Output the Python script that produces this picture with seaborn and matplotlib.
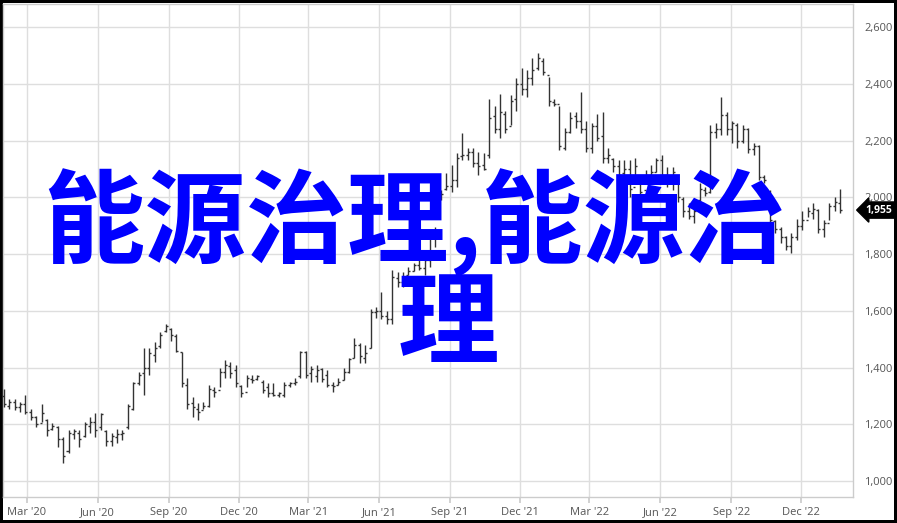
import pandas as pd
import numpy as np
import matplotlib
matplotlib.use("Agg")
import matplotlib.pyplot as plt
import matplotlib.dates as mdates
from matplotlib.ticker import FuncFormatter
import seaborn as sns

# weekly OHLC bars
high = [1325, 1290, 1290, 1280, 1305, 1255, 1230, 1270, 1220, 1205,
        1195, 1155, 1180, 1185, 1180, 1210, 1225, 1240, 1240, 1180,
        1170, 1185, 1180, 1270, 1350, 1385, 1470, 1470, 1490, 1525,
        1555, 1540, 1520, 1455, 1365, 1295, 1275, 1280, 1340, 1330,
        1400, 1425, 1420, 1410, 1340, 1375, 1375, 1375, 1355, 1345,
        1345, 1315, 1350, 1350, 1365, 1460, 1460, 1405, 1410, 1400,
        1390, 1350, 1365, 1400, 1435, 1505, 1485, 1480, 1605, 1615,
        1665, 1600, 1745, 1735, 1735, 1755, 1770, 1790, 1805, 1875,
        1895, 2025, 2085, 2115, 2155, 2225, 2175, 2175, 2160, 2155,
        2345, 2320, 2365, 2305, 2360, 2420, 2455, 2450, 2490, 2510,
        2490, 2425, 2345, 2320, 2245, 2300, 2300, 2370, 2270, 2260,
        2295, 2300, 2175, 2140, 2130, 2130, 2130, 2140, 2070, 2095,
        2115, 2140, 2150, 2105, 2105, 2060, 2000, 1980, 1965, 2050,
        2035, 2255, 2260, 2355, 2300, 2270, 2260, 2255, 2245, 2190,
        2185, 2080, 2025, 1920, 1895, 1865, 1875, 1925, 1950, 1965,
        1980, 1960, 1920, 1980, 2000, 2030]
low = [1260, 1255, 1250, 1245, 1235, 1215, 1190, 1210, 1160, 1180,
       1120, 1065, 1100, 1150, 1120, 1155, 1170, 1155, 1180, 1125,
       1125, 1135, 1145, 1185, 1250, 1340, 1305, 1375, 1420, 1470,
       1525, 1495, 1455, 1330, 1255, 1225, 1215, 1255, 1260, 1295,
       1330, 1365, 1365, 1330, 1295, 1330, 1345, 1355, 1310, 1295,
       1300, 1295, 1295, 1330, 1340, 1365, 1365, 1350, 1350, 1350,
       1330, 1315, 1340, 1355, 1380, 1435, 1415, 1415, 1470, 1575,
       1570, 1555, 1555, 1685, 1685, 1725, 1740, 1745, 1725, 1755,
       1825, 1990, 2025, 2020, 2035, 2130, 2130, 2105, 2080, 2095,
       2140, 2225, 2210, 2225, 2255, 2305, 2360, 2355, 2395, 2450,
       2430, 2320, 2320, 2165, 2165, 2225, 2245, 2225, 2160, 2155,
       2200, 2120, 2120, 2090, 2060, 2070, 2000, 2070, 2000, 2050,
       2060, 2090, 2060, 2035, 2025, 1985, 1930, 1925, 1910, 1980,
       2005, 2015, 2210, 2220, 2220, 2190, 2175, 2190, 2155, 2150,
       2060, 2050, 1900, 1875, 1840, 1815, 1805, 1850, 1885, 1930,
       1925, 1875, 1860, 1920, 1950, 1945]
open_ = [1300, 1265, 1280, 1262, 1270, 1245, 1225, 1205, 1215, 1185,
         1190, 1150, 1105, 1165, 1170, 1160, 1195, 1210, 1190, 1175,
         1140, 1155, 1165, 1190, 1255, 1345, 1380, 1400, 1445, 1475,
         1530, 1535, 1510, 1455, 1340, 1275, 1255, 1250, 1265, 1320,
         1320, 1385, 1405, 1390, 1335, 1315, 1360, 1360, 1350, 1330,
         1310, 1305, 1305, 1340, 1345, 1370, 1455, 1380, 1370, 1395,
         1375, 1340, 1340, 1355, 1385, 1435, 1480, 1435, 1470, 1595,
         1600, 1580, 1570, 1715, 1700, 1725, 1740, 1760, 1750, 1780,
         1810, 1995, 2030, 2040, 2060, 2145, 2150, 2160, 2120, 2115,
         2150, 2285, 2240, 2295, 2250, 2345, 2400, 2380, 2420, 2455,
         2480, 2430, 2335, 2330, 2175, 2230, 2285, 2270, 2240, 2175,
         2250, 2215, 2140, 2135, 2110, 2085, 2100, 2035, 2060, 2025,
         2080, 2090, 2130, 2080, 2060, 2050, 1995, 1950, 1935, 1990,
         2025, 2020, 2230, 2240, 2290, 2240, 2255, 2200, 2240, 2170,
         2180, 2070, 2020, 1915, 1890, 1860, 1830, 1860, 1900, 1920,
         1945, 1955, 1890, 1910, 1970, 1980]
close = [1270, 1280, 1260, 1270, 1245, 1225, 1200, 1240, 1180, 1195,
         1150, 1090, 1170, 1175, 1150, 1200, 1210, 1180, 1235, 1140,
         1160, 1165, 1170, 1265, 1345, 1375, 1400, 1450, 1470, 1515,
         1545, 1515, 1460, 1345, 1270, 1260, 1245, 1265, 1325, 1315,
         1385, 1410, 1380, 1345, 1310, 1365, 1355, 1370, 1320, 1310,
         1305, 1310, 1340, 1345, 1350, 1455, 1375, 1395, 1390, 1360,
         1340, 1335, 1350, 1385, 1430, 1480, 1440, 1450, 1595, 1600,
         1580, 1570, 1720, 1700, 1720, 1740, 1760, 1750, 1780, 1810,
         1880, 2010, 2040, 2060, 2140, 2150, 2160, 2120, 2110, 2100,
         2280, 2240, 2300, 2240, 2340, 2400, 2380, 2420, 2450, 2490,
         2440, 2340, 2330, 2180, 2230, 2280, 2270, 2240, 2175, 2250,
         2210, 2140, 2150, 2110, 2080, 2100, 2030, 2110, 2020, 2080,
         2090, 2130, 2080, 2060, 2090, 2000, 1950, 1935, 1950, 2030,
         2015, 2230, 2240, 2290, 2240, 2260, 2200, 2240, 2170, 2180,
         2070, 2060, 1920, 1890, 1860, 1830, 1860, 1900, 1920, 1950,
         1960, 1890, 1910, 1970, 1985, 1955]

dates = pd.date_range("2020-01-31", periods=len(close), freq="W-FRI")
df = pd.DataFrame({"date": dates, "open": open_, "high": high, "low": low, "close": close})

tick_dates = pd.to_datetime(["2020-03-01", "2020-06-01", "2020-09-01", "2020-12-01",
                             "2021-03-01", "2021-06-01", "2021-09-01", "2021-12-01",
                             "2022-03-01", "2022-06-01", "2022-09-01", "2022-12-01"])
tick_labels = ["Mar '20", "Jun '20", "Sep '20", "Dec '20", "Mar '21", "Jun '21",
               "Sep '21", "Dec '21", "Mar '22", "Jun '22", "Sep '22", "Dec '22"]
y_ticks = [1000, 1200, 1400, 1600, 1800, 2000, 2200, 2400, 2600]
overlay_line1 = "能源治理,能源治"
overlay_line2 = "理"

sns.set_theme(style="white")
plt.rcParams["font.family"] = ["Open Sans", "DejaVu Sans"]

fig = plt.figure(figsize=(8.97, 5.23), dpi=100)
ax = fig.add_axes([3 / 897, 1 - 497 / 523, 850 / 897, 493 / 523])

x = mdates.date2num(df["date"])
half = 2.6
bar_color = "#333333"
ax.vlines(x, df["low"], df["high"], color=bar_color, lw=1.0, zorder=3)
ax.hlines(df["open"], x - half, x, color=bar_color, lw=1.0, zorder=3)
ax.hlines(df["close"], x, x + half, color=bar_color, lw=1.0, zorder=3)

ax.set_xlim(mdates.date2num(pd.Timestamp("2020-01-30")), mdates.date2num(pd.Timestamp("2023-02-06")))
ax.set_ylim(944, 2681)

ax.set_xticks(mdates.date2num(tick_dates))
ax.set_xticklabels(tick_labels)
ax.set_yticks(y_ticks)
ax.yaxis.set_major_formatter(FuncFormatter(lambda v, p: f"{int(v):,}"))
ax.yaxis.tick_right()

ax.grid(True, color="#dedede", lw=1.0, zorder=0)
for s in ax.spines.values():
    s.set_color("#cccccc")
    s.set_linewidth(1.0)
ax.tick_params(axis="x", direction="out", length=4, color="#cccccc", labelsize=8,
               labelcolor="#555555", pad=3, bottom=True)
ax.tick_params(axis="y", length=0, labelsize=8, labelcolor="#555555", pad=8)

# last price label
ax.annotate(f"{close[-1]:,}", xy=(1.0, close[-1]), xycoords=("axes fraction", "data"),
            xytext=(9, 0), textcoords="offset points", va="center", ha="left",
            fontsize=7.5, color="white", fontweight="bold",
            bbox=dict(boxstyle="larrow,pad=0.25", fc="black", ec="black"))

# big blue overlay text
cjk = ["Noto Sans CJK SC", "DejaVu Sans"]
fig.text(0.462, 1 - 223 / 523, overlay_line1, color="#0000ff", fontsize=73, fontweight="bold",
         family=cjk, ha="center", va="center", zorder=10)
fig.text(0.5, 1 - 326 / 523, overlay_line2, color="#0000ff", fontsize=73, fontweight="bold",
         family=cjk, ha="center", va="center", zorder=10)

fig.patch.set_edgecolor("black")
fig.patch.set_linewidth(4)

fig.savefig("out.png", dpi=100, facecolor="white", edgecolor="black")
